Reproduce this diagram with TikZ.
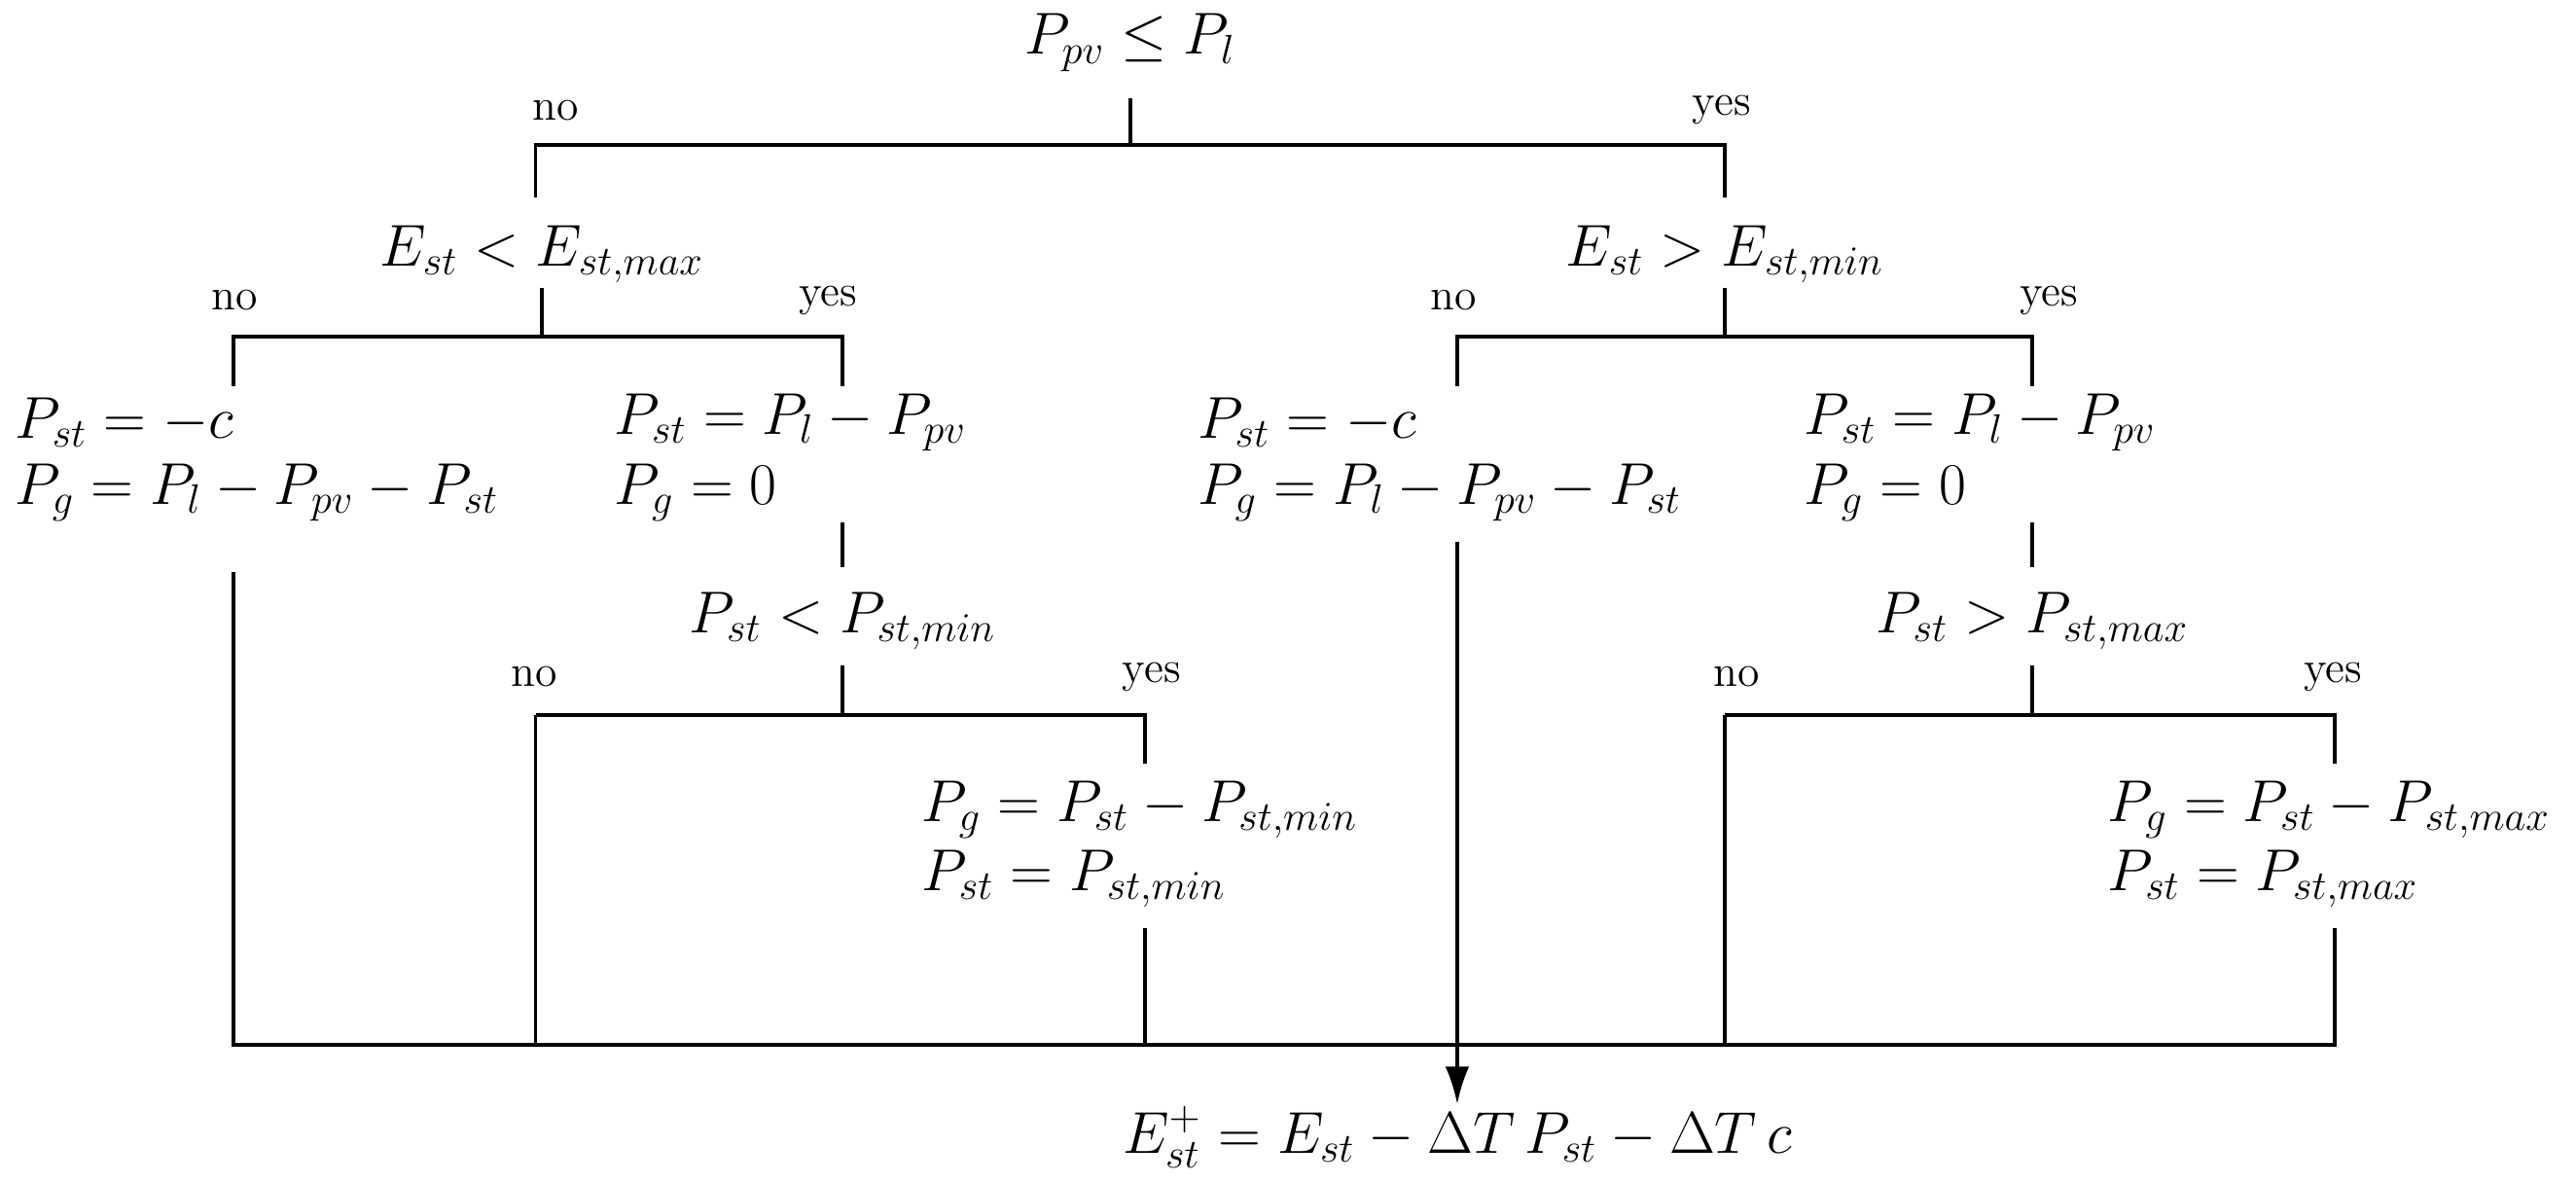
\documentclass[tikz,border=0pt]{standalone}
\usepackage{amsmath}
\usetikzlibrary{arrows.meta}
\begin{document}
\begin{tikzpicture}[x=0.016888cm,y=-0.016888cm,
  eq/.style={inner sep=0pt,font=\fontsize{18.1}{22}\selectfont},
  lbl/.style={inner sep=0pt,font=\fontsize{13}{15}\selectfont},
  every path/.style={line width=1.1pt}]
\useasboundingbox (0,0) rectangle (1568,719);
% top
\node[eq] (t) at (688,26) {$P_{pv}\leq P_l$};
\coordinate (t1) at (688,60); \coordinate (t2) at (688,88);
\coordinate (tl) at (326,88); \coordinate (tr) at (1050,88);
\coordinate (tl2) at (326,120); \coordinate (tr2) at (1050,120);
\draw (t1)--(t2); \draw (tl2)--(tl)--(tr)--(tr2);
\node[lbl] at (338,67) {no}; \node[lbl] at (1048,67) {yes};
% left branch
\node[eq] (L) at (330,155) {$E_{st}<E_{st,max}$};
\coordinate (L1) at (330,175); \coordinate (L2) at (330,205);
\coordinate (Ll) at (142,205); \coordinate (Lr) at (513,205);
\coordinate (Ll2) at (142,235); \coordinate (Lr2) at (513,235);
\draw (L1)--(L2); \draw (Ll2)--(Ll)--(Lr)--(Lr2);
\node[lbl] at (143,183) {no}; \node[lbl] at (504,183) {yes};
\node[eq,anchor=west] (a1) at (8,257) {$P_{st}=-c$};
\node[eq,anchor=west] (a2) at (8,300) {$P_g=P_l-P_{pv}-P_{st}$};
\node[eq,anchor=west] (b1) at (373,257) {$P_{st}=P_l-P_{pv}$};
\node[eq,anchor=west] (b2) at (373,300) {$P_g=0$};
\coordinate (b3) at (513,318); \coordinate (b4) at (513,345);
\draw (b3)--(b4);
\node[eq] (M) at (513,378) {$P_{st}<P_{st,min}$};
\coordinate (M1) at (513,405); \coordinate (M2) at (513,435);
\coordinate (Ml) at (326,435); \coordinate (Mr) at (697,435);
\coordinate (Mr2) at (697,465);
\draw (M1)--(M2); \draw (Ml)--(Mr)--(Mr2);
\node[lbl] at (325,412) {no}; \node[lbl] at (701,412) {yes};
\node[eq,anchor=west] (c1) at (560,493) {$P_g=P_{st}-P_{st,min}$};
\node[eq,anchor=west] (c2) at (560,535) {$P_{st}=P_{st,min}$};
% right branch
\node[eq] (R) at (1050,155) {$E_{st}>E_{st,min}$};
\coordinate (R1) at (1050,175); \coordinate (R2) at (1050,205);
\coordinate (Rl) at (887,205); \coordinate (Rr) at (1237,205);
\coordinate (Rl2) at (887,235); \coordinate (Rr2) at (1237,235);
\draw (R1)--(R2); \draw (Rl2)--(Rl)--(Rr)--(Rr2);
\node[lbl] at (885,183) {no}; \node[lbl] at (1247,183) {yes};
\node[eq,anchor=west] (d1) at (728,257) {$P_{st}=-c$};
\node[eq,anchor=west] (d2) at (728,300) {$P_g=P_l-P_{pv}-P_{st}$};
\node[eq,anchor=west] (e1) at (1097,257) {$P_{st}=P_l-P_{pv}$};
\node[eq,anchor=west] (e2) at (1097,300) {$P_g=0$};
\coordinate (e3) at (1237,318); \coordinate (e4) at (1237,345);
\draw (e3)--(e4);
\node[eq] (N) at (1237,378) {$P_{st}>P_{st,max}$};
\coordinate (N1) at (1237,405); \coordinate (N2) at (1237,435);
\coordinate (Nl) at (1050,435); \coordinate (Nr) at (1421,435);
\coordinate (Nr2) at (1421,465);
\draw (N1)--(N2); \draw (Nl)--(Nr)--(Nr2);
\node[lbl] at (1057,412) {no}; \node[lbl] at (1420,412) {yes};
\node[eq,anchor=west] (f1) at (1282,493) {$P_g=P_{st}-P_{st,max}$};
\node[eq,anchor=west] (f2) at (1282,535) {$P_{st}=P_{st,max}$};
% bottom collection
\coordinate (B0) at (142,636); \coordinate (B1) at (326,636);
\coordinate (B2) at (697,636); \coordinate (B3) at (1050,636);
\coordinate (B4) at (1421,636);
\coordinate (a3) at (142,348); \coordinate (c3) at (697,565);
\coordinate (f3) at (1421,565); \coordinate (d3) at (887,330);
\draw (a3)--(B0)--(B4)--(f3);
\draw (Ml)--(B1); \draw (c3)--(B2); \draw (Nl)--(B3);
\node[eq] (E) at (887,692) {$E^+_{st}=E_{st}-\Delta T\,P_{st}-\Delta T\,c$};
\draw[-{Latex[length=11pt,width=7pt]}] (d3)--(E.north);
\end{tikzpicture}
\end{document}
